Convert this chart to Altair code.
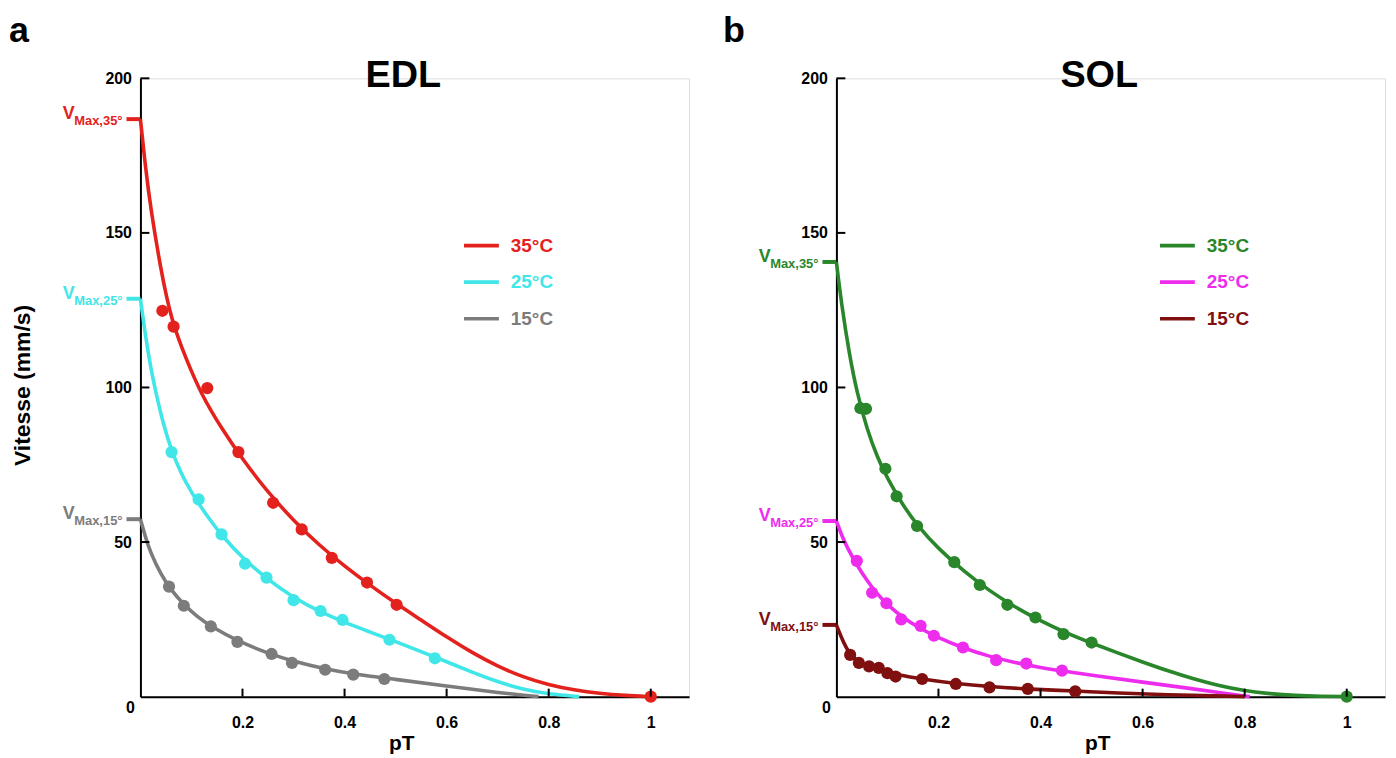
import altair as alt
import pandas as pd

FONT = "Liberation Sans"

temps = ["35°C", "25°C", "15°C"]
vmax_subs = ["Max,35°", "Max,25°", "Max,15°"]
x_tick_values = [0.2, 0.4, 0.6, 0.8, 1]
y_tick_values = [50, 100, 150, 200]

edl_colors = ["#e3221d", "#40e6e8", "#7c7c7c"]
sol_colors = ["#2a862a", "#ee2cee", "#801010"]

edl_vmax = [186.8, 128.7, 57.4]
sol_vmax = [140.6, 56.8, 23.2]

# ---- EDL fitted curves
edl35_cx = [0, 0.01, 0.02, 0.04, 0.06, 0.09, 0.12, 0.16, 0.2, 0.25, 0.3, 0.35, 0.4, 0.45, 0.5, 0.55, 0.6, 0.65, 0.7, 0.75, 0.8, 0.85, 0.9, 0.95, 1.0]
edl35_cy = [186.8, 171, 158, 138, 122, 109, 97.5, 86.5, 76.8, 66, 57, 49, 42.2, 36, 30.2, 24.8, 19.3, 14.2, 9.8, 6.3, 3.8, 2.1, 1.0, 0.35, 0]
edl25_cx = [0, 0.01, 0.02, 0.03, 0.045, 0.06, 0.08, 0.1, 0.13, 0.16, 0.2, 0.25, 0.3, 0.35, 0.4, 0.45, 0.5, 0.55, 0.6, 0.65, 0.7, 0.75, 0.8, 0.86]
edl25_cy = [128.7, 116.5, 106.5, 98.5, 88, 80, 72, 66, 58.5, 52, 44.8, 37.8, 32, 27.6, 24, 20.9, 17.8, 14.6, 11.3, 7.9, 4.8, 2.3, 0.8, 0]
edl15_cx = [0, 0.01, 0.02, 0.04, 0.06, 0.085, 0.11, 0.14, 0.19, 0.25, 0.3, 0.36, 0.42, 0.5, 0.6, 0.7, 0.78]
edl15_cy = [57.4, 51.5, 46.5, 39.5, 34.5, 29.8, 26, 22.5, 18, 14, 11.4, 9, 7.2, 5.6, 3.4, 1.3, 0]

# ---- EDL measured points
edl35_px = [0.043, 0.065, 0.131, 0.192, 0.260, 0.316, 0.375, 0.444, 0.502, 1.0]
edl35_py = [124.8, 119.7, 99.8, 79.1, 62.7, 54.1, 44.9, 36.9, 29.7, 0]
edl25_px = [0.061, 0.114, 0.159, 0.205, 0.247, 0.300, 0.353, 0.396, 0.488, 0.577]
edl25_py = [79.1, 63.8, 52.5, 43.0, 38.5, 31.2, 27.7, 24.8, 18.4, 12.4]
edl15_px = [0.056, 0.085, 0.138, 0.190, 0.257, 0.297, 0.362, 0.417, 0.478]
edl15_py = [35.6, 29.4, 22.7, 17.7, 13.8, 10.9, 8.7, 7.1, 5.7]

# ---- SOL fitted curves
sol35_cx = [0, 0.01, 0.025, 0.04, 0.06, 0.08, 0.1, 0.13, 0.16, 0.2, 0.25, 0.3, 0.35, 0.4, 0.45, 0.5, 0.55, 0.6, 0.65, 0.7, 0.75, 0.8, 0.85, 0.9, 0.95, 1.0]
sol35_cy = [140.6, 127, 111, 98.5, 86.5, 77.5, 70.5, 62, 55, 47.8, 40.5, 34.2, 28.9, 24.5, 20.6, 17.3, 14.2, 11.2, 8.3, 5.7, 3.5, 1.9, 0.9, 0.35, 0.1, 0]
sol25_cx = [0, 0.01, 0.02, 0.04, 0.06, 0.08, 0.1, 0.13, 0.16, 0.2, 0.25, 0.3, 0.35, 0.4, 0.45, 0.5, 0.6, 0.7, 0.75, 0.81]
sol25_cy = [56.8, 52.3, 48.6, 42.6, 37.5, 33.2, 29.7, 25.6, 22.4, 19, 15.6, 13, 11, 9.4, 8.1, 6.9, 4.7, 2.5, 1.3, 0]
sol15_cx = [0, 0.01, 0.02, 0.03, 0.05, 0.08, 0.12, 0.17, 0.23, 0.3, 0.38, 0.47, 0.55, 0.65, 0.75, 0.8]
sol15_cy = [23.2, 19, 15.5, 13, 10.5, 8.8, 7, 5.6, 4.3, 3.2, 2.4, 1.8, 1.2, 0.6, 0.2, 0]

# ---- SOL measured points
sol35_px = [0.047, 0.058, 0.096, 0.118, 0.158, 0.231, 0.281, 0.335, 0.390, 0.445, 0.500, 1.0]
sol35_py = [93.3, 93.1, 73.7, 64.8, 55.2, 43.5, 36.1, 29.7, 25.6, 20.2, 17.5, 0]
sol25_px = [0.040, 0.070, 0.098, 0.127, 0.165, 0.191, 0.248, 0.313, 0.372, 0.442]
sol25_py = [43.9, 33.6, 30.2, 25.0, 22.9, 19.7, 15.9, 11.8, 10.7, 8.4]
sol15_px = [0.027, 0.044, 0.064, 0.083, 0.100, 0.116, 0.168, 0.234, 0.300, 0.375, 0.468]
sol15_py = [13.5, 10.9, 9.8, 9.3, 7.6, 6.5, 5.7, 4.1, 3.0, 2.5, 1.7]

W, H = 551, 621
X_MAX = 1.075


def frame(pairs):
    rows = []
    for t, xs, ys in pairs:
        for a, b in zip(xs, ys):
            rows.append({"temp": t, "x": a, "y": b})
    return pd.DataFrame(rows)


def panel(title, letter, colors, vmax, curves, points, show_ytitle):
    color = alt.Color("temp:N", scale=alt.Scale(domain=temps, range=colors), legend=None)
    xenc = alt.X(
        "x:Q",
        scale=alt.Scale(domain=[0, X_MAX], nice=False),
        axis=alt.Axis(
            values=x_tick_values, format="~g", ticks=False, grid=False,
            domainColor="black", domainWidth=2, labelFontSize=16, labelFontWeight="bold",
            labelColor="black", labelPadding=18, labelFont=FONT,
            title="pT", titleFontSize=21, titleFontWeight="bold", titleFont=FONT,
            titleX=262, titleY=36, titleColor="black",
        ),
    )
    yaxis_kw = dict(
        values=y_tick_values, ticks=False, grid=False, domainColor="black", domainWidth=2,
        labelFontSize=16, labelFontWeight="bold", labelColor="black", labelPadding=9,
        labelFont=FONT,
    )
    if show_ytitle:
        yaxis_kw.update(
            title="Vitesse (mm/s)", titleFontSize=23, titleFontWeight="bold", titleFont=FONT,
            titleColor="black", titleX=-118, titleY=308, titleAngle=270,
            titleAlign="center", titleBaseline="middle",
        )
    else:
        yaxis_kw.update(title="")
    yenc = alt.Y("y:Q", scale=alt.Scale(domain=[0, 200], nice=False), axis=alt.Axis(**yaxis_kw))

    cdf = frame(curves)
    pdf = frame(points)
    curve_layer = alt.Chart(cdf).mark_line(strokeWidth=3.6, interpolate="basis").encode(
        x=xenc, y=yenc, color=color, detail="temp:N"
    )
    point_layer = alt.Chart(pdf).mark_circle(size=150, opacity=1).encode(
        x="x:Q", y="y:Q", color=color
    )

    vdf = pd.DataFrame({"temp": temps, "y": vmax, "sub": vmax_subs})
    vtick = alt.Chart(vdf).mark_rule(strokeWidth=4).encode(
        y="y:Q", x=alt.value(-14), x2=alt.value(0), color=color
    )
    vsub = alt.Chart(vdf).mark_text(
        align="right", baseline="middle", fontSize=13, fontWeight="bold", font=FONT, dy=2
    ).encode(y="y:Q", x=alt.value(-18), text="sub:N", color=color)
    vV = alt.Chart(vdf).mark_text(
        align="right", baseline="middle", fontSize=18, fontWeight="bold", font=FONT, dy=-5
    ).encode(y="y:Q", x=alt.value(-66), text=alt.value("V"), color=color)

    xt = alt.Chart(pd.DataFrame({"x": x_tick_values})).mark_rule(strokeWidth=2, color="black").encode(
        x="x:Q", y=alt.value(H), y2=alt.value(H - 8)
    )
    yt = alt.Chart(pd.DataFrame({"y": y_tick_values})).mark_rule(strokeWidth=2, color="black").encode(
        y="y:Q", x=alt.value(0), x2=alt.value(9)
    )
    zero = alt.Chart(pd.DataFrame({"t": ["0"]})).mark_text(
        fontSize=16, fontWeight="bold", font=FONT, color="black", align="center", baseline="middle"
    ).encode(x=alt.value(-10), y=alt.value(H + 11), text="t:N")

    ttl = alt.Chart(pd.DataFrame({"t": [title]})).mark_text(
        fontSize=38, fontWeight="bold", font=FONT, color="black", align="center", baseline="middle"
    ).encode(x=alt.value(264), y=alt.value(-2), text="t:N")
    let = alt.Chart(pd.DataFrame({"t": [letter]})).mark_text(
        fontSize=36, fontWeight="bold", font=FONT, color="black", align="left", baseline="alphabetic"
    ).encode(x=alt.value(-132 if show_ytitle else -114), y=alt.value(-36), text="t:N")

    ldf = pd.DataFrame({"temp": temps})
    ldf["ly"] = [168 + 36.7 * i for i in range(len(temps))]
    leg_line = alt.Chart(ldf).mark_rule(strokeWidth=3.6).encode(
        y=alt.Y("ly:Q", scale=None), x=alt.value(325), x2=alt.value(360), color=color
    )
    leg_text = alt.Chart(ldf).mark_text(
        align="left", baseline="middle", fontSize=19, fontWeight="bold", font=FONT
    ).encode(y=alt.Y("ly:Q", scale=None), x=alt.value(372), text="temp:N", color=color)

    return alt.layer(
        curve_layer, point_layer, vtick, vsub, vV, xt, yt, zero, ttl, let, leg_line, leg_text
    ).properties(width=W, height=H)


left = panel(
    "EDL", "a", edl_colors, edl_vmax,
    [(temps[0], edl35_cx, edl35_cy), (temps[1], edl25_cx, edl25_cy), (temps[2], edl15_cx, edl15_cy)],
    [(temps[0], edl35_px, edl35_py), (temps[1], edl25_px, edl25_py), (temps[2], edl15_px, edl15_py)],
    True,
)
right = panel(
    "SOL", "b", sol_colors, sol_vmax,
    [(temps[0], sol35_cx, sol35_cy), (temps[1], sol25_cx, sol25_cy), (temps[2], sol15_cx, sol15_cy)],
    [(temps[0], sol35_px, sol35_py), (temps[1], sol25_px, sol25_py), (temps[2], sol15_px, sol15_py)],
    False,
)

chart = (
    alt.hconcat(left, right, spacing=32)
    .resolve_scale(color="independent")
    .properties(padding={"left": 0, "top": 3, "right": 2, "bottom": 0})
    .configure_view(stroke=None)
    .configure(font=FONT)
)

chart.save("out.html", embed_options={"renderer": "svg", "actions": False})
